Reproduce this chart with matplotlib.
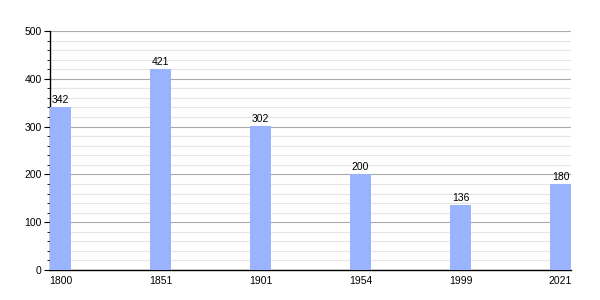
import matplotlib
matplotlib.use("Agg")
import matplotlib.pyplot as plt
from matplotlib.ticker import MultipleLocator

plt.rcParams["font.family"] = ["Liberation Sans", "DejaVu Sans"]

# datos
anios = ["1800", "1851", "1901", "1954", "1999", "2021"]
poblacion = [342, 421, 302, 200, 136, 180]

fig = plt.figure(figsize=(6, 3), dpi=100)
ax = fig.add_axes([0.0833, 0.1, 0.8684, 0.7967])

posiciones = list(range(len(anios)))
ancho = 0.21
barras = ax.bar(posiciones, poblacion, width=ancho, align="edge", color="#99b3ff", zorder=3)

for b, v in zip(barras, poblacion):
    ax.text(b.get_x() + b.get_width() / 2, v + 4, str(v), ha="center", va="bottom",
            fontsize=7.5, color="black", zorder=4)

ax.set_xlim(0, len(anios) - 1 + ancho)
ax.set_ylim(0, 500)
ax.set_xticks([p + ancho / 2 for p in posiciones])
ax.set_xticklabels(anios)
ax.yaxis.set_major_locator(MultipleLocator(100))
ax.yaxis.set_minor_locator(MultipleLocator(20))
ax.grid(axis="y", which="major", color="#aaaaaa", linewidth=0.8, zorder=1)
ax.grid(axis="y", which="minor", color="#e6e6e6", linewidth=0.8, zorder=1)

for s in ["top", "right"]:
    ax.spines[s].set_visible(False)
ax.spines["left"].set_linewidth(1.0)
ax.spines["bottom"].set_linewidth(1.0)
ax.tick_params(axis="x", length=0, labelsize=7.5, pad=4)
ax.tick_params(axis="y", which="major", length=4, labelsize=7.5, pad=2)
ax.tick_params(axis="y", which="minor", length=2)

fig.savefig("out.png", dpi=100)
